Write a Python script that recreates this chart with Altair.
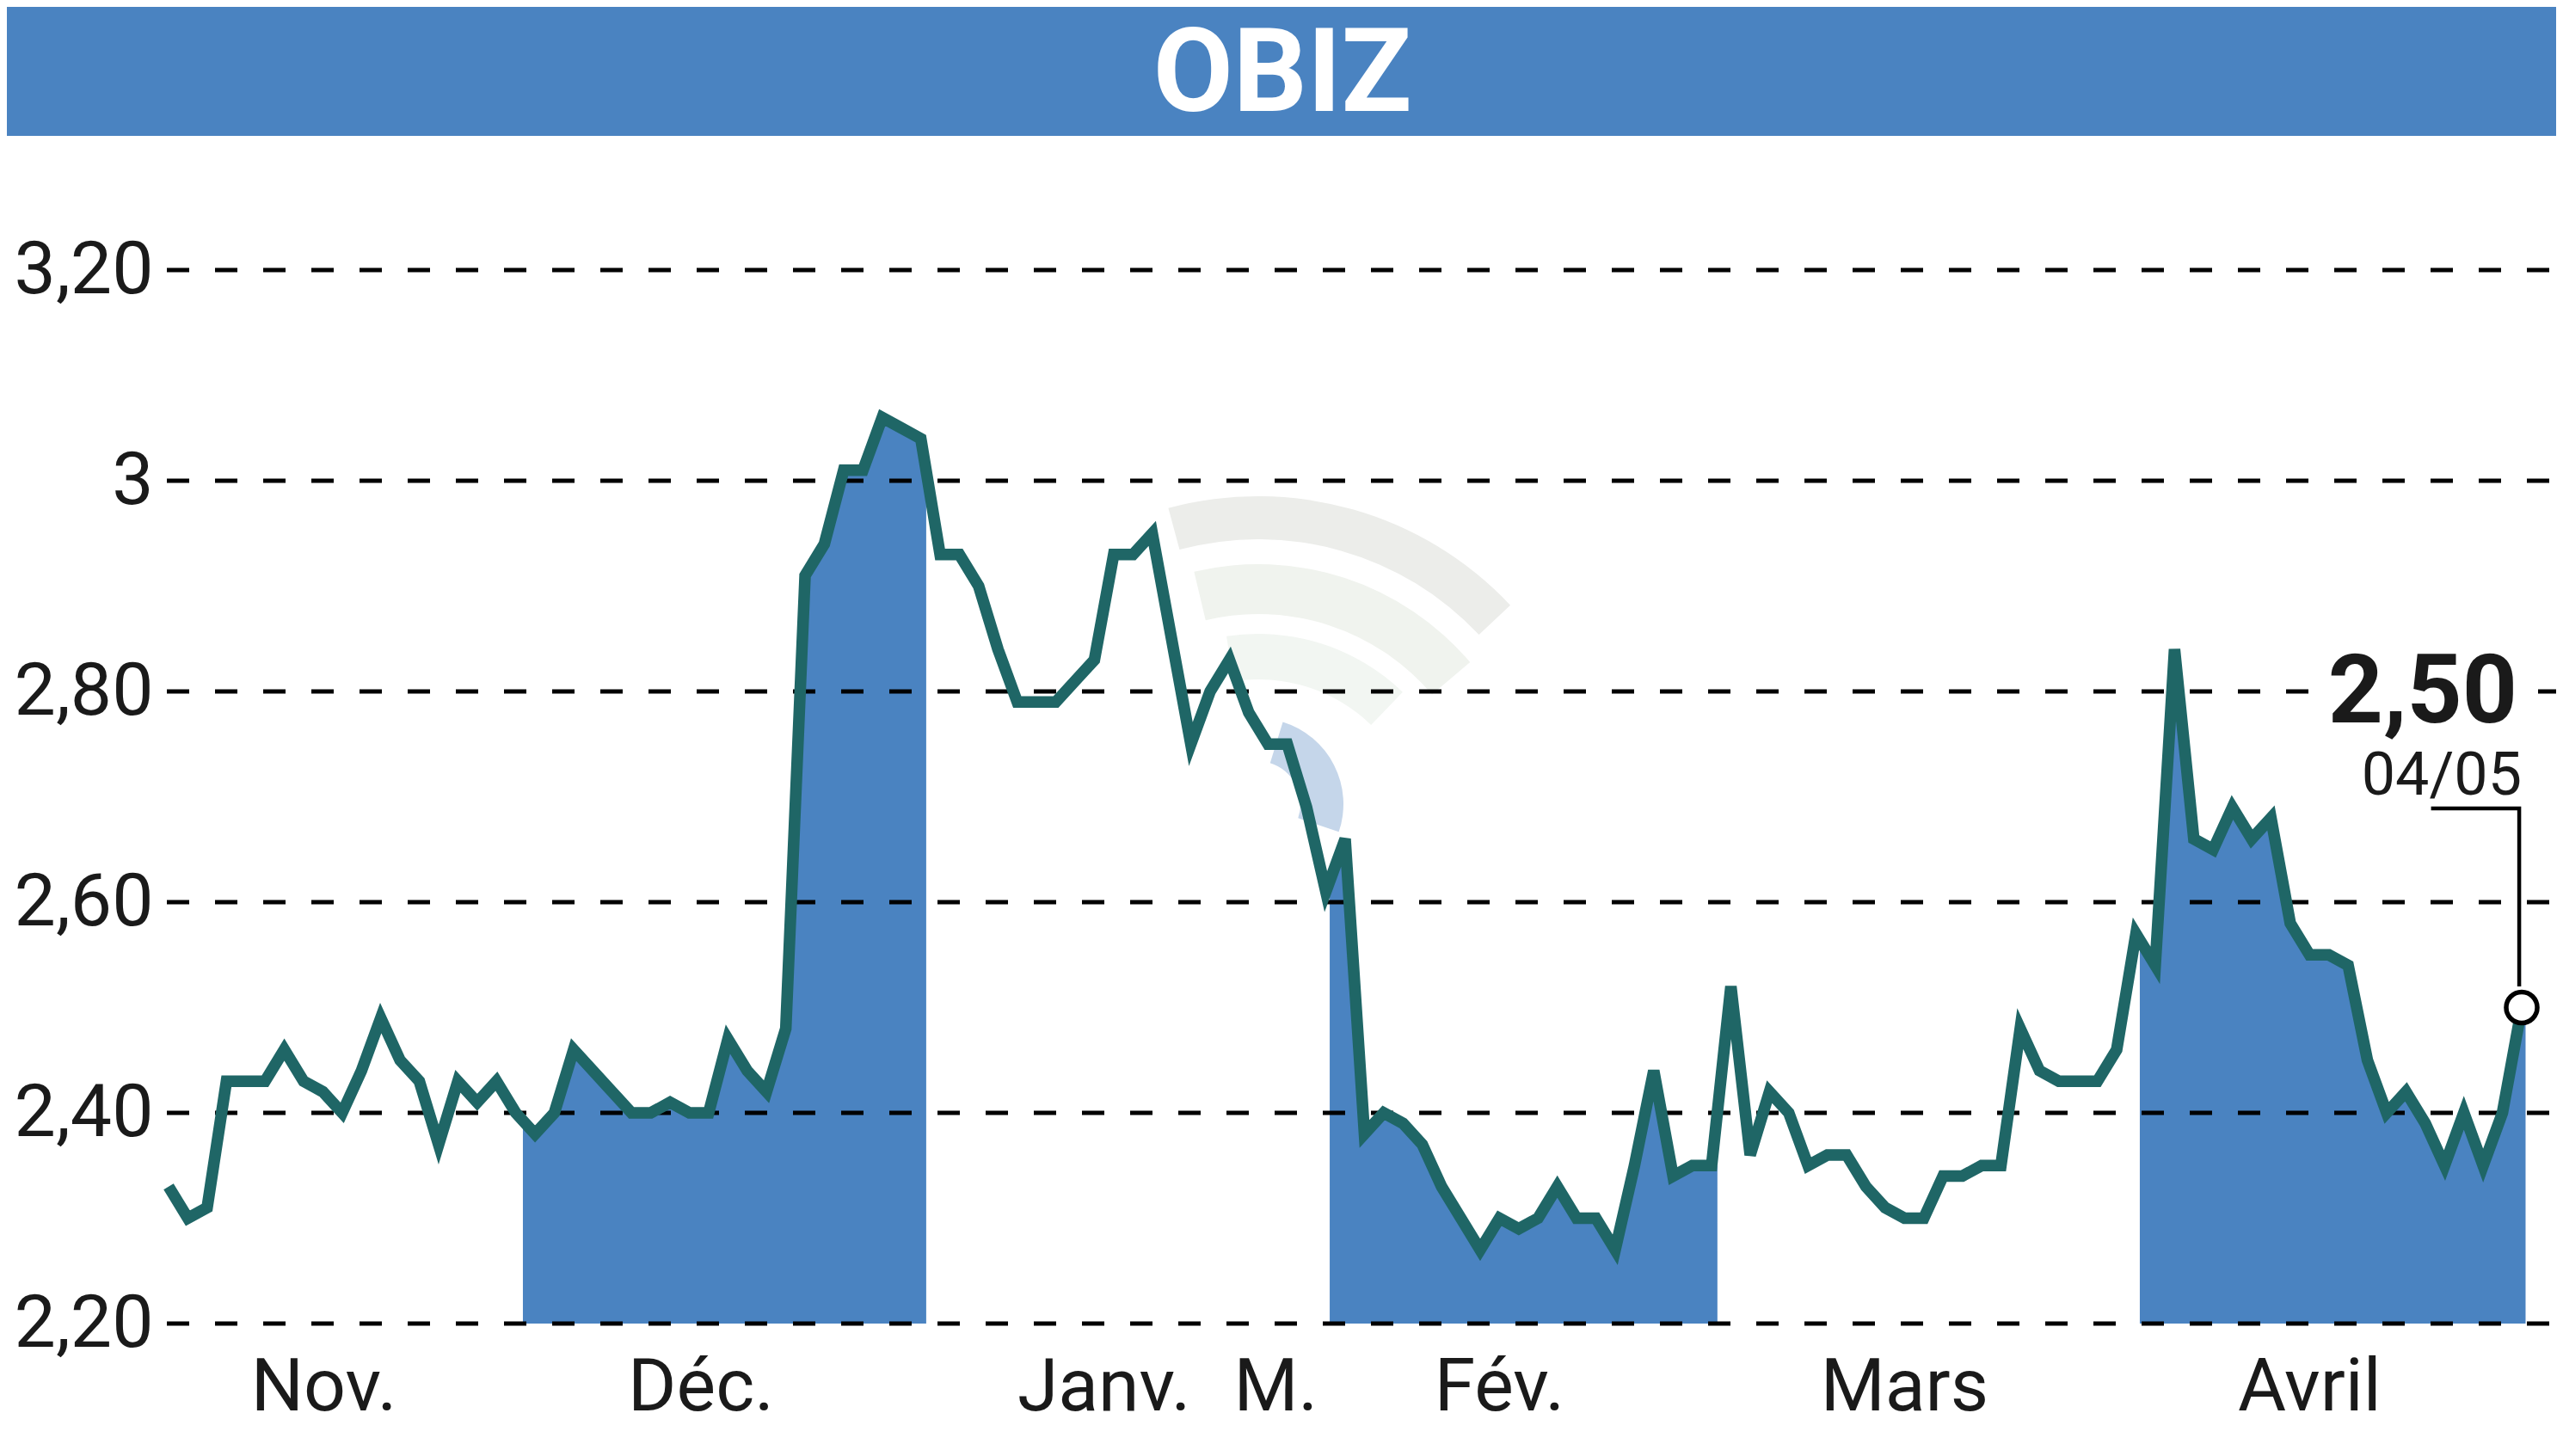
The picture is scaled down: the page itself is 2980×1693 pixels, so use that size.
import altair as alt
import pandas as pd

FONT = 'Roboto'
BLUE = '#4a83c1'
GREEN = '#1f6666'
INK = '#1a1a1a'

price = [2.33, 2.30, 2.31, 2.43, 2.43, 2.43, 2.46, 2.43, 2.42, 2.40,
         2.44, 2.49, 2.45, 2.43, 2.37, 2.43, 2.41, 2.43, 2.40, 2.38,
         2.40, 2.46, 2.44, 2.42, 2.40, 2.40, 2.41, 2.40, 2.40, 2.47,
         2.44, 2.42, 2.48, 2.91, 2.94, 3.01, 3.01, 3.06, 3.05, 3.04,
         2.93, 2.93, 2.90, 2.84, 2.79, 2.79, 2.79, 2.81, 2.83, 2.93,
         2.93, 2.95, 2.85, 2.75, 2.80, 2.83, 2.78, 2.75, 2.75, 2.69,
         2.61, 2.66, 2.38, 2.40, 2.39, 2.37, 2.33, 2.30, 2.27, 2.30,
         2.29, 2.30, 2.33, 2.30, 2.30, 2.27, 2.35, 2.44, 2.34, 2.35,
         2.35, 2.52, 2.36, 2.42, 2.40, 2.35, 2.36, 2.36, 2.33, 2.31,
         2.30, 2.30, 2.34, 2.34, 2.35, 2.35, 2.48, 2.44, 2.43, 2.43,
         2.43, 2.46, 2.57, 2.54, 2.84, 2.66, 2.65, 2.69, 2.66, 2.68,
         2.58, 2.55, 2.55, 2.54, 2.45, 2.40, 2.42, 2.39, 2.35, 2.40,
         2.35, 2.40, 2.50]
day = list(range(len(price)))

# month bands: where the fill starts and stops, and the price there
band_start = [18.37, 60.2, 102.2]
band_start_price = [2.393, 2.61, 2.565]
band_stop = [39.28, 80.3, 122.2]
band_stop_price = [3.01, 2.35, 2.50]

month_labels = ['Nov.', 'Déc.', 'Janv.', 'M.', 'Fév.', 'Mars', 'Avril']
month_pos = [8.05, 27.6, 48.5, 57.4, 69, 90, 111]

y_ticks = [2.2, 2.4, 2.6, 2.8, 3.0, 3.2]

callout_day = [117.3, 121.87, 121.87]
callout_price = [2.689, 2.689, 2.52]

# plot area is the 0-122 / 2.20-3.20 rectangle, the rest is padding
W, H = 2736, 1225
x_scale = alt.Scale(domain=[0, 122], nice=False, zero=False)
y_scale = alt.Scale(domain=[2.2, 3.2], nice=False, zero=False)
y_axis = alt.Axis(
    values=y_ticks, domain=False, ticks=False, grid=False, labelFont=FONT,
    labelFontSize=86, labelColor=INK, labelPadding=18,
    labelExpr="datum.value == 3 ? '3' : replace(format(datum.value, '.2f'), '.', ',')",
)
X = alt.X('day:Q', scale=x_scale, axis=None)
Y = alt.Y('price:Q', scale=y_scale, title=None, axis=y_axis)

df = pd.DataFrame({'day': day, 'price': price})

rows = []
for b in range(len(band_start)):
    rows.append({'day': band_start[b], 'price': band_start_price[b], 'band': b})
    for d, p in zip(day, price):
        if band_start[b] < d < band_stop[b]:
            rows.append({'day': d, 'price': p, 'band': b})
    rows.append({'day': band_stop[b], 'price': band_stop_price[b], 'band': b})
bands = pd.DataFrame(rows)

# header
header = alt.Chart(pd.DataFrame({'a': [0]})).mark_rect(color=BLUE).encode(
    x=alt.value(-188), x2=alt.value(2776), y=alt.value(-306), y2=alt.value(-156)
)
name = alt.Chart(pd.DataFrame({'t': ['OBIZ']})).mark_text(
    font=FONT, fontWeight='bold', fontSize=135, color='white', align='center', baseline='alphabetic'
).encode(x=alt.value(1295), y=alt.value(-185), text='t:N')

# faint wifi logo behind the curve
def logo(r1, r2, t1, t2, col, cx=1267, cy=665):
    return alt.Chart(pd.DataFrame({'a': [0]})).mark_arc(
        radius=r2, radius2=r1, theta=t1, theta2=t2, color=col
    ).encode(x=alt.value(cx), y=alt.value(cy))

wm = (logo(352, 402, 6.02, 7.1, '#ecedea')
      + logo(265, 323, 6.05, 7.15, '#f0f3ee')
      + logo(189, 242, 6.13, 7.05, '#f2f6f2')
      + logo(50, 100, 0.3, 1.9, '#c5d6ea', cx=1266, cy=621))

area = alt.Chart(bands).mark_area(color=BLUE, opacity=1).encode(
    x=X,
    y=alt.Y('price:Q', scale=y_scale, title=None, axis=y_axis, stack=None),
    y2=alt.datum(2.2),
    detail='band:N',
)


def dashes(values, x1, x2):
    return alt.Chart(pd.DataFrame({'price': values})).mark_rule(
        color='black', strokeWidth=5, strokeDash=[26, 30]
    ).encode(y=Y, x=alt.value(x1), x2=alt.value(x2))


# the 2,80 rule stops short of the last-value label
grid = (dashes([t for t in y_ticks if t != 2.8], -2, 2776)
        + dashes([2.8], -2, 2502)
        + dashes([2.8], 2755, 2776))

line = alt.Chart(df).mark_line(color=GREEN, strokeWidth=13.5, strokeJoin='miter').encode(x=X, y=Y)

months = alt.Chart(pd.DataFrame({'day': month_pos, 'm': month_labels})).mark_text(
    font=FONT, fontSize=86, color=INK, align='center', baseline='alphabetic'
).encode(x=X, y=alt.value(1326), text='m:N')

callout = alt.Chart(pd.DataFrame({
    'day': callout_day, 'price': callout_price, 'o': [0, 1, 2]
})).mark_line(color='black', strokeWidth=4.5, strokeJoin='miter').encode(x=X, y=Y, order='o:Q')

last = alt.Chart(pd.DataFrame({'day': [day[-1]], 'price': [price[-1]]})).mark_point(
    filled=True, fill='white', stroke='black', strokeWidth=5.5, size=1300, opacity=1
).encode(x=X, y=Y)

last_value = alt.Chart(pd.DataFrame({'t': ['2,50']})).mark_text(
    font=FONT, fontWeight='bold', fontSize=112, color=INK, align='right', baseline='alphabetic'
).encode(x=alt.value(2731), y=alt.value(526), text='t:N')
last_date = alt.Chart(pd.DataFrame({'t': ['04/05']})).mark_text(
    font=FONT, fontSize=70, color=INK, align='right', baseline='alphabetic'
).encode(x=alt.value(2736), y=alt.value(610), text='t:N')

chart = alt.layer(
    header, name, wm, area, grid, line, callout, last, months, last_value, last_date
).properties(
    width=W, height=H,
    autosize=alt.AutoSizeParams(type='none'),
    padding={'left': 188, 'top': 306, 'right': 40, 'bottom': 149},
    background='white',
).configure_view(stroke=None)

chart.save("out.html", embed_options={"renderer": "svg", "actions": False})
